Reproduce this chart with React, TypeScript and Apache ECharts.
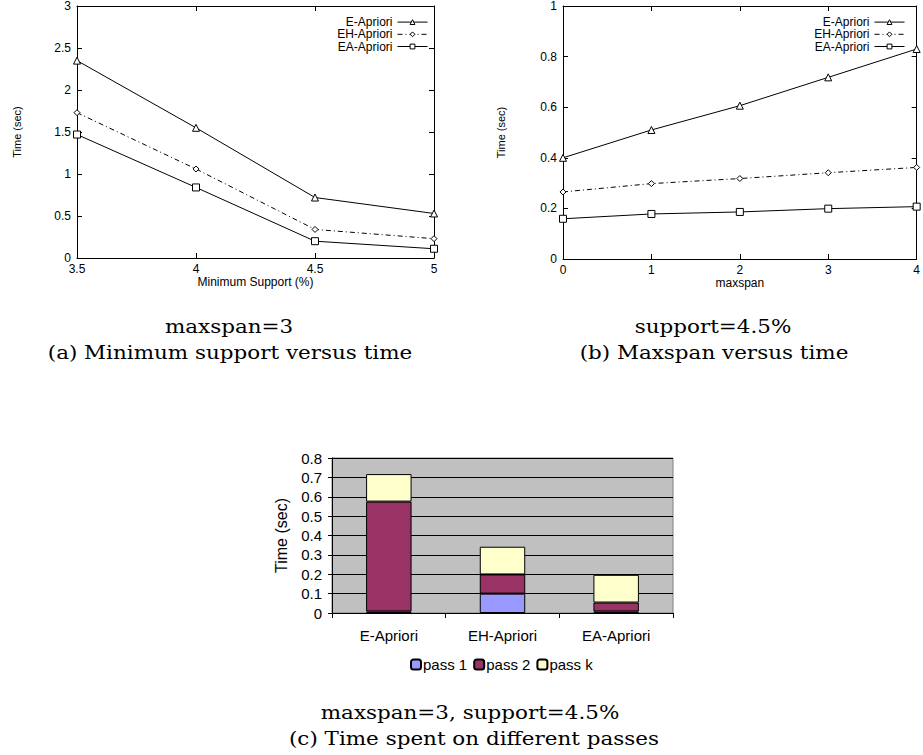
import React, { useEffect, useRef } from "react";
import * as echarts from "echarts";

// ---- Data ----
const seriesNames = ["E-Apriori", "EH-Apriori", "EA-Apriori"];

// (a) Minimum support versus time (maxspan=3)
const supportX = [3.5, 4, 4.5, 5];
const supportE = [2.35, 1.55, 0.72, 0.53];
const supportEH = [1.73, 1.06, 0.34, 0.23];
const supportEA = [1.47, 0.84, 0.2, 0.11];

// (b) Maxspan versus time (support=4.5%)
const maxspanX = [0, 1, 2, 3, 4];
const maxspanE = [0.4, 0.51, 0.606, 0.718, 0.83];
const maxspanEH = [0.265, 0.298, 0.318, 0.341, 0.362];
const maxspanEA = [0.159, 0.178, 0.186, 0.199, 0.207];

// (c) Time spent on different passes
const passCategories = ["E-Apriori", "EH-Apriori", "EA-Apriori"];
const passNames = ["pass 1", "pass 2", "pass k"];
const pass1 = [0.008, 0.1, 0.008];
const pass2 = [0.567, 0.099, 0.046];
const passK = [0.142, 0.143, 0.143];

// Captions
const captionA = ["maxspan=3", "(a) Minimum support versus time"];
const captionB = ["support=4.5%", "(b) Maxspan versus time"];
const captionC = ["maxspan=3, support=4.5%", "(c) Time spent on different passes"];

const SANS = "Liberation Sans, Arial, Helvetica, sans-serif";
const SERIF = "DejaVu Serif, serif";

const symbols = ["triangle", "diamond", "rect"];
const symbolSizes = [7, 6, 7];
const lineTypes: any[] = ["solid", [5, 3, 1, 3], "solid"];

function pairs(xs: number[], ys: number[]) {
  return xs.map((x, i) => [x, ys[i]]);
}

function lineSeries(name: string, idx: number, data: number[][], axisIdx: number) {
  return {
    type: "line",
    name,
    xAxisIndex: axisIdx,
    yAxisIndex: axisIdx,
    data,
    symbol: symbols[idx],
    symbolSize: symbolSizes[idx],
    showAllSymbol: true,
    itemStyle: { color: "#ffffff", borderColor: "#000000", borderWidth: 1 },
    lineStyle: { color: "#000000", width: 1, type: lineTypes[idx] },
    emphasis: { disabled: true },
    z: 3,
  };
}

function valueAxis(
  gridIndex: number,
  position: string,
  min: number,
  max: number,
  interval: number,
  showLabel: boolean,
  name?: string,
  nameGap?: number
) {
  const isY = position === "left" || position === "right";
  return {
    type: "value",
    gridIndex,
    position,
    min,
    max,
    interval,
    name: name || "",
    nameLocation: "middle",
    nameGap: nameGap || 0,
    nameTextStyle: {
      fontFamily: SANS,
      fontSize: isY ? 11 : 12,
      color: "#000",
    },
    axisLine: { show: true, onZero: false, lineStyle: { color: "#000", width: 1 } },
    axisTick: { show: true, inside: true, length: 5, lineStyle: { color: "#000", width: 1 } },
    axisLabel: {
      show: showLabel,
      fontFamily: SANS,
      fontSize: 12,
      color: "#000",
      margin: isY ? 6 : 5,
    },
    splitLine: { show: false },
  };
}

function lineLegend(right: number) {
  return {
    data: seriesNames,
    orient: "vertical",
    right,
    top: 11,
    align: "right",
    itemWidth: 30,
    itemHeight: 6,
    itemGap: 0,
    lineStyle: { width: 1 },
    itemStyle: { borderWidth: 1 },
    textStyle: { fontFamily: SANS, fontSize: 12, color: "#000", lineHeight: 12.2 },
    selectedMode: false,
  };
}

export default function App() {
  const ref = useRef<HTMLDivElement>(null);

  useEffect(() => {
    if (!ref.current) return;
    const chart = echarts.init(ref.current, null, { renderer: "svg" });

    const captionText = (text: string, x: number, y: number) => ({
      type: "text",
      x,
      y,
      scaleX: 1.13,
      style: {
        text,
        fontFamily: SERIF,
        fontSize: 19,
        fill: "#000",
        align: "center",
        verticalAlign: "middle",
      },
    });

    const option: any = {
      animation: false,
      backgroundColor: "#ffffff",
      grid: [
        { left: 77, top: 6, width: 357, height: 252, show: false },
        { left: 563, top: 6, width: 358, height: 253, show: false },
        {
          left: 332,
          top: 458,
          width: 341,
          height: 155,
          show: true,
          backgroundColor: "#c0c0c0",
          borderColor: "#808080",
          borderWidth: 1,
        },
      ],
      xAxis: [
        valueAxis(0, "bottom", 3.5, 5, 0.5, true, "Minimum Support (%)", 17),
        valueAxis(0, "top", 3.5, 5, 0.5, false),
        valueAxis(1, "bottom", 0, 4, 1, true, "maxspan", 17),
        valueAxis(1, "top", 0, 4, 1, false),
        {
          type: "category",
          gridIndex: 2,
          data: passCategories,
          position: "bottom",
          axisLine: { show: true, lineStyle: { color: "#000", width: 1 } },
          axisTick: { show: true, inside: false, length: 5, lineStyle: { color: "#000" } },
          axisLabel: { fontFamily: SANS, fontSize: 15, color: "#000", margin: 15 },
          splitLine: { show: false },
        },
      ],
      yAxis: [
        valueAxis(0, "left", 0, 3, 0.5, true, "Time (sec)", 55),
        valueAxis(0, "right", 0, 3, 0.5, false),
        valueAxis(1, "left", 0, 1, 0.2, true, "Time (sec)", 57),
        valueAxis(1, "right", 0, 1, 0.2, false),
        {
          type: "value",
          gridIndex: 2,
          min: 0,
          max: 0.8,
          interval: 0.1,
          name: "Time (sec)",
          nameLocation: "middle",
          nameGap: 43,
          nameTextStyle: { fontFamily: SANS, fontSize: 16, color: "#000" },
          axisLine: { show: true, lineStyle: { color: "#000", width: 1 } },
          axisTick: { show: true, inside: false, length: 4, lineStyle: { color: "#000" } },
          axisLabel: { fontFamily: SANS, fontSize: 15, color: "#000", margin: 10 },
          splitLine: { show: true, lineStyle: { color: "#000", width: 1 } },
        },
      ],
      legend: [
        lineLegend(923 - 433),
        lineLegend(923 - 910),
        {
          data: passNames,
          orient: "horizontal",
          left: 405,
          top: 652,
          itemWidth: 10,
          itemHeight: 10,
          itemGap: 6,
          textStyle: { fontFamily: SANS, fontSize: 15, color: "#000", padding: [0, 0, 0, -3] },
          selectedMode: false,
        },
      ],
      series: [
        lineSeries(seriesNames[0], 0, pairs(supportX, supportE), 0),
        lineSeries(seriesNames[1], 1, pairs(supportX, supportEH), 0),
        lineSeries(seriesNames[2], 2, pairs(supportX, supportEA), 0),
        lineSeries(seriesNames[0], 0, pairs(maxspanX, maxspanE), 2),
        lineSeries(seriesNames[1], 1, pairs(maxspanX, maxspanEH), 2),
        lineSeries(seriesNames[2], 2, pairs(maxspanX, maxspanEA), 2),
        {
          type: "bar",
          name: passNames[0],
          xAxisIndex: 4,
          yAxisIndex: 4,
          stack: "passes",
          barWidth: "40%",
          data: pass1,
          itemStyle: { color: "#9999ff", borderColor: "#000", borderWidth: 1 },
          emphasis: { disabled: true },
        },
        {
          type: "bar",
          name: passNames[1],
          xAxisIndex: 4,
          yAxisIndex: 4,
          stack: "passes",
          barWidth: "40%",
          data: pass2,
          itemStyle: { color: "#993366", borderColor: "#000", borderWidth: 1 },
          emphasis: { disabled: true },
        },
        {
          type: "bar",
          name: passNames[2],
          xAxisIndex: 4,
          yAxisIndex: 4,
          stack: "passes",
          barWidth: "40%",
          data: passK,
          itemStyle: { color: "#ffffcc", borderColor: "#000", borderWidth: 1 },
          emphasis: { disabled: true },
        },
      ],
      graphic: [
        captionText(captionA[0], 229, 326),
        captionText(captionA[1], 230, 352),
        captionText(captionB[0], 713, 326),
        captionText(captionB[1], 714, 352),
        captionText(captionC[0], 470, 712),
        captionText(captionC[1], 474, 738),
      ],
    };

    chart.setOption(option);
    return () => chart.dispose();
  }, []);

  return (
    <div
      ref={ref}
      style={{ position: "fixed", left: 0, top: 0, width: 923, height: 755, background: "#fff" }}
    />
  );
}
